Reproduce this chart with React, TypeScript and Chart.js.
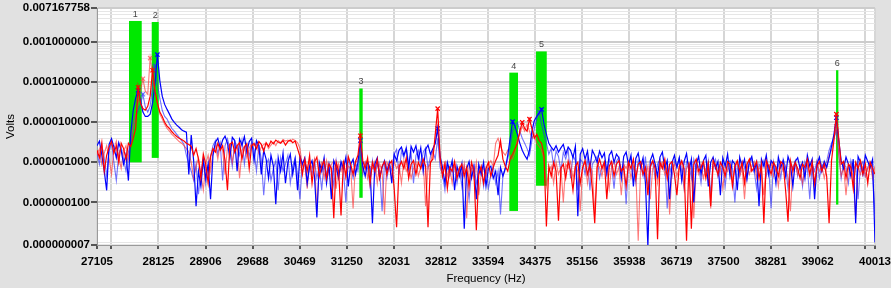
import React, { useEffect, useRef } from 'react';
import { Chart, registerables } from 'chart.js';
Chart.register(...registerables);

// Frequency grid of the spectra (Hz)
const freqStart = 27105;
const freqStep = 40.087;

// Spectrum amplitudes, in microvolts
const blueA_uV = [
  2.6, 3.4, 1.5, 0.6, 0.2, 2.8, 3.9, 2.4, 1.3, 3.1,
  2.0, 0.9, 1.6, 0.35, 5.6, 20, 40, 63, 35, 18,
  14, 14, 16, 30, 90, 490, 110, 45, 28, 21,
  16, 12, 10, 8.5, 7.5, 6.5, 6.0, 5.7, 0.5, 4.8,
  1.1, 0.08, 0.6, 0.25, 1.2, 0.4, 0.9, 0.12, 1.5, 3.2,
  4.0, 2.2, 3.6, 4.5, 3.0, 1.3, 4.2, 3.5, 0.6, 3.8,
  2.7, 4.4, 1.8, 3.3, 4.0, 1.1, 3.5, 2.6, 0.5, 2.0,
  1.2, 0.4, 1.5, 0.8, 0.09, 1.3, 0.6, 1.7, 0.3, 1.0,
  1.6, 0.5, 1.2, 0.2, 1.4, 0.9, 1.3, 0.3, 0.8, 1.1,
  0.45, 0.042, 1.0, 0.6, 1.3, 0.3, 0.9, 0.12, 1.1, 0.75,
  0.4, 1.05, 0.7, 1.35, 0.25, 0.9, 1.2, 0.5, 1.0, 3.5,
  0.8, 0.45, 1.05, 0.7, 0.03, 0.9, 1.3, 0.4, 0.75, 1.1,
  0.6, 1.0, 0.3, 1.6, 1.1, 2.0, 2.4, 1.5, 2.2, 0.7,
  2.5, 1.8, 2.6, 1.2, 2.3, 0.6, 2.1, 2.7, 1.6, 2.2,
  3.0, 7.0, 1.4, 0.75, 0.3, 1.0, 0.6, 1.1, 0.2, 0.8,
  0.45, 0.9, 0.022, 0.7, 1.05, 0.4, 0.75, 0.12, 0.9, 0.5,
  1.0, 0.25, 0.7, 0.8, 0.4, 0.6, 0.15, 0.75, 0.45, 0.7,
  1.5, 4.0, 10.4, 8.0, 5.0, 3.0, 2.0, 1.5, 1.2, 2.0,
  6.0, 11, 14, 17, 21, 9.0, 5.0, 3.0, 2.4, 2.0,
  2.6, 1.8, 2.3, 2.8, 1.6, 2.4, 2.0, 1.3, 2.5, 0.045,
  1.6, 2.2, 1.2, 1.9, 0.7, 2.0, 1.5, 1.0, 1.9, 1.3,
  1.7, 0.55, 1.5, 1.9, 1.0, 1.6, 1.3, 0.4, 1.4, 1.8,
  0.85, 1.5, 0.25, 1.25, 1.7, 0.75, 1.3, 0.3, 0.008, 1.1,
  1.6, 0.9, 0.45, 1.35, 1.8, 0.7, 1.1, 0.12, 1.0, 1.5,
  0.75, 1.3, 0.35, 1.05, 1.65, 0.6, 1.2, 0.1, 0.9, 1.4,
  0.5, 1.1, 1.5, 0.25, 1.0, 1.35, 0.7, 1.05, 0.15, 1.3,
  0.8, 1.6, 0.45, 1.1, 0.9, 0.2, 1.35, 0.75, 1.2, 0.4,
  1.05, 1.4, 0.6, 1.0, 0.08, 1.2, 0.8, 1.5, 0.5, 1.1,
  0.9, 0.3, 1.35, 0.75, 1.1, 0.45, 1.4, 0.9, 0.25, 1.05,
  1.3, 0.7, 1.0, 0.4, 1.5, 0.8, 1.2, 0.12, 0.9, 1.35,
  0.6, 1.05, 0.75, 1.3, 2.5, 5.0, 13, 3.5, 1.1, 0.7,
  1.35, 0.9, 0.45, 1.2, 0.03, 1.4, 1.0, 0.5, 1.5, 1.05,
  0.75, 1.2, 0.01,
];
const blueB_uV = [
  1.8, 0.9, 2.7, 1.3, 0.45, 1.9, 3.1, 1.0, 0.35, 1.6,
  2.4, 1.2, 0.6, 1.8, 3.0, 8.0, 14, 20, 28, 50,
  24, 18, 25, 80, 257, 90, 40, 20, 14, 12,
  9.0, 7.0, 6.0, 5.0, 4.2, 3.5, 2.8, 1.5, 0.9, 0.6,
  0.35, 0.9, 0.16, 0.6, 1.1, 0.3, 0.8, 1.4, 2.6, 3.5,
  1.6, 3.0, 0.35, 2.6, 3.9, 2.2, 0.8, 3.4, 2.4, 1.5,
  3.6, 0.9, 2.8, 1.4, 3.1, 2.0, 0.6, 2.7, 1.2, 0.15,
  0.9, 1.2, 0.35, 0.7, 1.1, 0.2, 1.3, 0.6, 0.9, 1.5,
  0.3, 0.8, 1.3, 0.5, 0.12, 1.0, 1.05, 0.3, 0.9, 0.5,
  1.1, 0.4, 0.8, 0.2, 1.05, 0.5, 1.0, 0.7, 0.25, 1.1,
  0.45, 0.9, 0.6, 0.1, 1.2, 0.75, 0.4, 1.0, 0.6, 2.0,
  0.5, 1.0, 0.7, 0.25, 1.1, 0.45, 0.9, 0.6, 0.06, 1.05,
  0.4, 0.9, 0.6, 1.6, 2.1, 0.5, 1.9, 1.3, 2.4, 0.9,
  1.7, 0.3, 1.5, 2.0, 0.8, 1.8, 2.3, 0.7, 1.4, 1.9,
  1.2, 4.0, 0.75, 0.5, 0.2, 0.9, 0.45, 0.7, 0.8, 0.3,
  0.7, 0.25, 0.8, 0.4, 0.12, 0.6, 0.9, 0.3, 0.5, 0.75,
  0.25, 0.7, 0.22, 0.5, 0.8, 0.3, 0.6, 0.05, 0.45, 0.75,
  1.2, 2.5, 6.0, 8.0, 10, 6.0, 4.0, 3.0, 2.2, 1.5,
  3.5, 7.0, 12, 18, 9.0, 5.0, 3.0, 1.6, 2.2, 0.8,
  1.9, 1.4, 0.6, 1.8, 1.2, 2.1, 0.4, 1.5, 1.1, 0.2,
  1.2, 1.0, 0.5, 1.3, 0.2, 0.9, 1.1, 1.4, 0.4, 0.75,
  1.05, 0.45, 1.2, 0.8, 0.22, 1.05, 1.35, 0.6, 0.9, 0.09,
  1.0, 1.3, 0.7, 0.3, 1.1, 0.8, 0.45, 1.4, 0.22, 0.75,
  1.05, 0.4, 0.9, 1.2, 0.7, 1.0, 0.07, 0.8, 0.45, 1.1,
  0.75, 1.3, 0.6, 0.22, 1.05, 0.9, 0.4, 1.2, 0.7, 0.8,
  0.3, 1.0, 0.5, 1.1, 0.15, 0.9, 1.2, 0.45, 0.75, 1.05,
  0.25, 0.9, 1.1, 0.7, 0.1, 0.8, 0.45, 1.05, 0.75, 0.35,
  1.0, 1.2, 0.6, 0.22, 0.9, 0.7, 1.1, 0.45, 0.8, 0.07,
  1.05, 0.6, 0.9, 0.4, 1.2, 0.75, 0.22, 1.0, 0.7, 1.1,
  0.45, 0.8, 0.25, 1.05, 0.75, 0.12, 0.9, 0.6, 1.1, 0.4,
  0.9, 0.7, 1.05, 2.0, 3.0, 4.0, 6.0, 1.8, 0.4, 1.0,
  0.75, 0.3, 1.1, 0.6, 0.9, 0.12, 0.8, 1.05, 0.45, 0.75,
  1.0, 0.5, 0.05,
];
const redA_uV = [
  2.0, 1.3, 3.1, 0.6, 1.5, 2.4, 3.3, 1.7, 2.6, 1.0,
  3.0, 2.2, 1.2, 3.0, 2.5, 4.0, 7.0, 75, 30, 22,
  20, 25, 45, 200, 60, 30, 18, 14, 10, 8.0,
  7.0, 5.8, 5.0, 4.4, 4.0, 3.7, 3.4, 3.0, 2.8, 2.5,
  1.5, 2.2, 1.2, 0.4, 1.6, 0.9, 0.3, 1.4, 2.2, 1.8,
  3.0, 2.0, 2.6, 1.1, 0.2, 2.8, 3.2, 1.8, 2.6, 3.1,
  1.2, 2.4, 2.9, 0.7, 2.6, 3.0, 2.2, 3.3, 2.8, 1.9,
  3.1, 2.5, 3.4, 2.9, 3.6, 3.2, 3.0, 3.5, 2.7, 3.3,
  3.6, 3.1, 3.4, 2.2, 1.4, 0.5, 1.2, 0.6, 1.5, 0.3,
  1.0, 1.35, 0.45, 0.8, 1.1, 0.4, 0.9, 0.7, 0.04, 1.0,
  0.6, 0.047, 1.1, 0.45, 1.4, 0.9, 0.5, 1.05, 1.5, 4.6,
  1.1, 0.7, 1.3, 0.3, 1.0, 0.6, 1.2, 0.4, 0.8, 1.05,
  0.5, 0.9, 1.1, 0.22, 0.024, 0.75, 1.05, 0.7, 1.3, 0.4,
  0.9, 1.1, 0.5, 1.0, 0.7, 1.2, 0.8, 0.024, 1.0, 1.2,
  5.0, 22, 1.35, 0.45, 0.9, 0.22, 0.75, 0.6, 1.05, 0.4,
  0.7, 0.9, 0.45, 0.75, 0.25, 1.0, 0.6, 0.02, 0.5, 0.8,
  0.3, 0.7, 1.0, 0.45, 0.75, 1.1, 1.5, 3.5, 1.2, 0.8,
  0.6, 1.2, 1.6, 2.2, 3.0, 6.0, 10, 7.0, 6.0, 12,
  7.0, 4.0, 5.0, 3.5, 3.0, 1.5, 0.025, 0.8, 0.45, 1.0,
  0.6, 0.035, 0.7, 0.9, 0.4, 1.05, 0.6, 0.2, 0.8, 1.0,
  0.3, 0.75, 1.1, 0.5, 0.9, 0.22, 0.03, 0.75, 1.2, 0.7,
  1.0, 0.12, 0.8, 1.05, 0.45, 0.9, 1.1, 0.6, 0.75, 0.25,
  1.0, 0.7, 1.2, 0.4, 0.9, 1.05, 0.5, 0.75, 0.15, 0.8,
  1.1, 0.7, 0.012, 1.0, 0.7, 1.2, 0.4, 0.9, 1.05, 0.5,
  0.15, 0.8, 1.1, 0.7, 0.011, 1.0, 0.022, 0.9, 1.2, 0.6,
  0.75, 1.05, 0.4, 0.9, 0.08, 1.1, 0.8, 0.5, 1.0, 0.75,
  0.45, 1.05, 0.9, 0.25, 0.8, 1.1, 0.6, 1.0, 0.3, 0.9,
  1.2, 0.6, 0.75, 1.05, 0.4, 0.9, 0.03, 1.1, 0.8, 0.5,
  1.0, 0.75, 0.45, 1.05, 0.9, 0.2, 0.033, 1.1, 0.6, 1.0,
  0.7, 0.4, 0.9, 0.75, 1.2, 0.5, 1.0, 0.3, 0.8, 1.05,
  0.6, 0.9, 0.45, 0.03, 1.1, 3.5, 16, 4.0, 0.9, 1.05,
  0.4, 0.9, 0.75, 0.22, 1.0, 0.7, 1.1, 0.5, 0.9, 0.3,
  1.0, 0.7, 0.5,
];
const redB_uV = [
  1.5, 2.2, 0.9, 1.7, 2.6, 1.3, 0.5, 2.2, 3.4, 1.4,
  0.7, 1.9, 2.6, 1.2, 3.5, 8.0, 14, 30, 60, 122,
  60, 50, 400, 150, 60, 30, 16, 12, 9.0, 7.0,
  6.0, 5.0, 4.4, 3.8, 3.3, 3.0, 2.6, 2.2, 1.8, 1.0,
  0.4, 0.8, 1.3, 0.5, 0.2, 0.9, 1.5, 0.6, 1.8, 2.6,
  1.2, 2.9, 2.0, 0.5, 2.4, 2.9, 1.0, 2.2, 2.7, 0.4,
  2.0, 2.5, 1.3, 2.3, 2.9, 2.6, 3.0, 1.7, 2.4, 2.8,
  3.0, 2.2, 2.7, 3.2, 2.6, 3.5, 3.1, 3.7, 3.4, 3.6,
  3.3, 3.8, 3.5, 3.1, 2.2, 0.8, 0.9, 0.22, 1.05, 0.7,
  1.2, 0.06, 0.75, 1.0, 0.4, 1.1, 0.5, 0.9, 1.05, 0.22,
  0.9, 0.6, 1.05, 0.4, 0.8, 0.7, 0.07, 1.0, 1.1, 3.0,
  0.6, 1.0, 0.4, 0.8, 0.7, 1.05, 0.3, 0.9, 0.6, 0.05,
  1.0, 0.75, 0.45, 1.05, 0.7, 0.9, 0.3, 1.1, 0.6, 0.8,
  0.4, 0.7, 1.0, 0.45, 0.75, 1.05, 0.08, 0.75, 0.9, 2.0,
  3.0, 8.0, 1.05, 0.7, 1.0, 0.45, 0.75, 0.3, 0.9, 0.5,
  0.75, 0.45, 0.9, 0.04, 0.8, 0.7, 0.4, 1.0, 0.15, 0.5,
  0.75, 0.45, 0.9, 1.1, 0.8, 3.0, 4.0, 2.5, 1.8, 1.5,
  2.0, 1.5, 1.2, 1.8, 4.0, 5.0, 8.0, 6.0, 9.0, 6.0,
  4.0, 5.0, 3.0, 2.5, 2.0, 1.2, 0.25, 0.6, 0.8, 0.3,
  1.0, 0.5, 0.75, 0.1, 0.9, 0.7, 1.05, 0.4, 0.8, 0.6,
  0.06, 0.75, 1.0, 0.3, 0.8, 0.6, 0.05, 0.9, 0.75, 0.45,
  1.0, 0.7, 0.22, 0.8, 1.05, 0.5, 0.75, 0.15, 0.9, 0.7,
  1.0, 0.4, 0.8, 0.6, 0.011, 0.75, 1.0, 0.45, 0.8, 0.12,
  0.7, 0.9, 0.3, 0.75, 1.0, 0.5, 0.8, 0.05, 0.7, 0.9,
  0.45, 0.75, 1.0, 0.22, 0.7, 0.9, 0.6, 0.04, 0.8, 0.5,
  0.9, 0.4, 0.7, 1.0, 0.07, 0.75, 0.9, 0.45, 0.7, 0.22,
  0.8, 0.6, 0.9, 0.35, 0.75, 1.0, 0.45, 0.7, 0.12, 0.9,
  0.5, 0.8, 1.05, 0.4, 0.75, 0.6, 0.15, 0.9, 0.7, 1.0,
  0.45, 0.75, 0.25, 0.9, 0.6, 0.8, 0.4, 0.06, 0.75, 1.0,
  0.5, 0.8, 0.3, 0.7, 0.9, 0.45, 0.75, 0.2, 1.0, 0.6,
  0.8, 0.4, 0.75, 1.5, 2.0, 4.0, 8.0, 1.5, 0.45, 0.75,
  0.15, 0.7, 0.9, 0.4, 0.04, 0.75, 0.5, 0.8, 0.45, 0.7,
  0.9, 0.4, 0.8,
];

// Peak markers (indices into the traces)
const blueA_marks = [17, 25, 109, 141, 172, 184, 306];
const blueB_marks = [19, 24, 183, 306];
const redA_marks = [17, 23, 109, 141, 176, 179, 306];
const redB_marks = [19, 22, 306];

// Green peak boxes
const boxLabels = ['1', '2', '3', '4', '5', '6'];
const boxFreqLow = [27636, 28013, 31457, 33946, 34389, 39367];
const boxFreqHigh = [27847, 28129, 31513, 34090, 34567, 39405];
const boxVoltLow = [1.0e-6, 1.29e-6, 1.3e-7, 6.1e-8, 2.6e-7, 8.8e-8];
const boxVoltHigh = [3.4e-3, 3.2e-3, 7.0e-5, 1.74e-4, 5.9e-4, 2.0e-4];

// Axes
const xMin = 27105;
const xMax = 40013;
const xTickValues = [27105, 27343.75, 28125, 28906.25, 29687.5, 30468.75, 31250, 32031.25, 32812.5, 33593.75, 34375, 35156.25, 35937.5, 36718.75, 37500, 38281.25, 39062.5, 39843.75, 40013];
const xTickLabels = ['27105', '', '28125', '28906', '29688', '30469', '31250', '32031', '32812', '33594', '34375', '35156', '35938', '36719', '37500', '38281', '39062', '', '40013'];
const yMin = 8.6e-9;
const yMax = 0.007167758;
const yTickValues = [8.6e-9, 1e-7, 1e-6, 1e-5, 1e-4, 1e-3, 0.007167758];
const yTickLabels = ['0.000000007', '0.000000100', '0.000001000', '0.000010000', '0.000100000', '0.001000000', '0.007167758'];

const FONT = "'Liberation Sans', Arial, sans-serif";

function findIdx(arr: number[], v: number) {
  return arr.findIndex((t) => Math.abs(t - v) <= Math.abs(t) * 1e-6);
}

// minor log gridlines
const yGridValues: number[] = (() => {
  const out: number[] = [];
  for (let e = -9; e <= -3; e++) {
    for (let m = 1; m <= 9; m++) {
      const v = m * Math.pow(10, e);
      if (v > yMin * 1.0001 && v < yMax * 0.9999 && findIdx(yTickValues, v) < 0) out.push(v);
    }
  }
  return out;
})();
const yAllTicks = [...yTickValues, ...yGridValues].sort((a, b) => a - b);

function toPoints(vals: number[]) {
  return vals.map((v, i) => ({ x: freqStart + i * freqStep, y: v * 1e-6 }));
}

function trace(label: string, vals: number[], color: string, marks: number[], width: number) {
  return {
    label,
    data: toPoints(vals),
    borderColor: color,
    backgroundColor: color,
    borderWidth: width,
    tension: 0,
    pointStyle: 'crossRot' as const,
    pointRadius: (c: any) => (marks.includes(c.dataIndex) ? 3 : 0),
    pointBorderColor: color,
    pointBorderWidth: 1.2,
    pointHoverRadius: 0,
    fill: false,
  };
}

const bgPlugin = {
  id: 'bg',
  beforeDraw(chart: any) {
    const { ctx, chartArea } = chart;
    ctx.save();
    ctx.fillStyle = '#e1e1e1';
    ctx.fillRect(0, 0, chart.width, chart.height);
    ctx.fillStyle = '#ffffff';
    ctx.fillRect(chartArea.left, chartArea.top, chartArea.right - chartArea.left, chartArea.bottom - chartArea.top);
    ctx.restore();
  },
};

const boxPlugin = {
  id: 'boxes',
  beforeDatasetsDraw(chart: any) {
    const { ctx } = chart;
    const xs = chart.scales.x;
    const ys = chart.scales.y;
    ctx.save();
    for (let i = 0; i < boxLabels.length; i++) {
      const x0 = xs.getPixelForValue(boxFreqLow[i]);
      const x1 = xs.getPixelForValue(boxFreqHigh[i]);
      const y0 = ys.getPixelForValue(boxVoltHigh[i]);
      const y1 = ys.getPixelForValue(boxVoltLow[i]);
      ctx.fillStyle = '#00e800';
      ctx.fillRect(x0, y0, Math.max(2, x1 - x0), y1 - y0);
      ctx.fillStyle = '#444444';
      ctx.font = `9px ${FONT}`;
      ctx.textAlign = 'center';
      ctx.textBaseline = 'bottom';
      ctx.fillText(boxLabels[i], (x0 + x1) / 2, y0 - 2);
    }
    ctx.restore();
  },
};

export default function App() {
  const ref = useRef<HTMLCanvasElement | null>(null);
  useEffect(() => {
    document.body.style.margin = '0';
    const canvas = ref.current;
    if (!canvas) return;
    const chart = new Chart(canvas, {
      type: 'line',
      data: {
        datasets: [
          trace('Red A', redA_uV, '#ff0000', redA_marks, 1.2),
          trace('Blue A', blueA_uV, '#0000ff', blueA_marks, 1.2),
          trace('Red B', redB_uV, 'rgba(255,50,50,0.65)', redB_marks, 1.1),
          trace('Blue B', blueB_uV, 'rgba(40,40,255,0.65)', blueB_marks, 1.1),
        ] as any,
      },
      options: {
        animation: false,
        responsive: false,
        devicePixelRatio: 1,
        layout: { padding: { left: 0, top: 8, right: 16, bottom: 0 } },
        plugins: { legend: { display: false }, tooltip: { enabled: false } },
        events: [],
        scales: {
          x: {
            type: 'linear',
            min: xMin,
            max: xMax,
            afterBuildTicks: (s: any) => {
              s.ticks = xTickValues.map((v) => ({ value: v }));
            },
            afterFit: (s: any) => {
              s.height = 43;
              s.paddingLeft = 0;
              s.paddingRight = 0;
            },
            ticks: {
              autoSkip: false,
              maxRotation: 0,
              minRotation: 0,
              padding: 6,
              color: '#000',
              font: { family: FONT, size: 11.5, weight: 'bold' },
              callback: (v: any) => {
                const k = findIdx(xTickValues, Number(v));
                return k >= 0 ? xTickLabels[k] : '';
              },
            },
            grid: {
              color: '#d6d6d6',
              lineWidth: 2,
              tickLength: 4,
              tickColor: '#555',
            },
            border: { color: '#9a9a9a', width: 1 },
            title: {
              display: true,
              text: 'Frequency (Hz)',
              color: '#000',
              font: { family: FONT, size: 11.5 },
              padding: { top: 2, bottom: 2 },
            },
          },
          y: {
            type: 'logarithmic',
            min: yMin,
            max: yMax,
            afterBuildTicks: (s: any) => {
              s.ticks = yAllTicks.map((v) => ({ value: v }));
            },
            afterFit: (s: any) => {
              s.width = 97;
              s.paddingTop = 0;
              s.paddingBottom = 0;
            },
            ticks: {
              autoSkip: false,
              padding: 1,
              color: '#000',
              font: { family: FONT, size: 11.5, weight: 'bold' },
              callback: (v: any) => {
                const k = findIdx(yTickValues, Number(v));
                return k >= 0 ? yTickLabels[k] : '';
              },
            },
            grid: {
              color: (c: any) => (findIdx(yTickValues, c.tick?.value) >= 0 ? '#cccccc' : '#e6e6e6'),
              lineWidth: (c: any) => (findIdx(yTickValues, c.tick?.value) >= 0 ? 2 : 1),
              tickLength: 6,
              tickColor: (c: any) => (findIdx(yTickValues, c.tick?.value) >= 0 ? '#555' : 'rgba(0,0,0,0)'),
            },
            border: { color: '#9a9a9a', width: 1 },
            title: {
              display: true,
              text: 'Volts',
              color: '#000',
              font: { family: FONT, size: 11.5 },
              padding: { top: 4, bottom: 4 },
            },
          },
        },
      } as any,
      plugins: [bgPlugin, boxPlugin],
    });
    return () => chart.destroy();
  }, []);
  return (
    <div style={{ width: 891, height: 288 }}>
      <canvas ref={ref} width={891} height={288} style={{ display: 'block', width: 891, height: 288 }} />
    </div>
  );
}
